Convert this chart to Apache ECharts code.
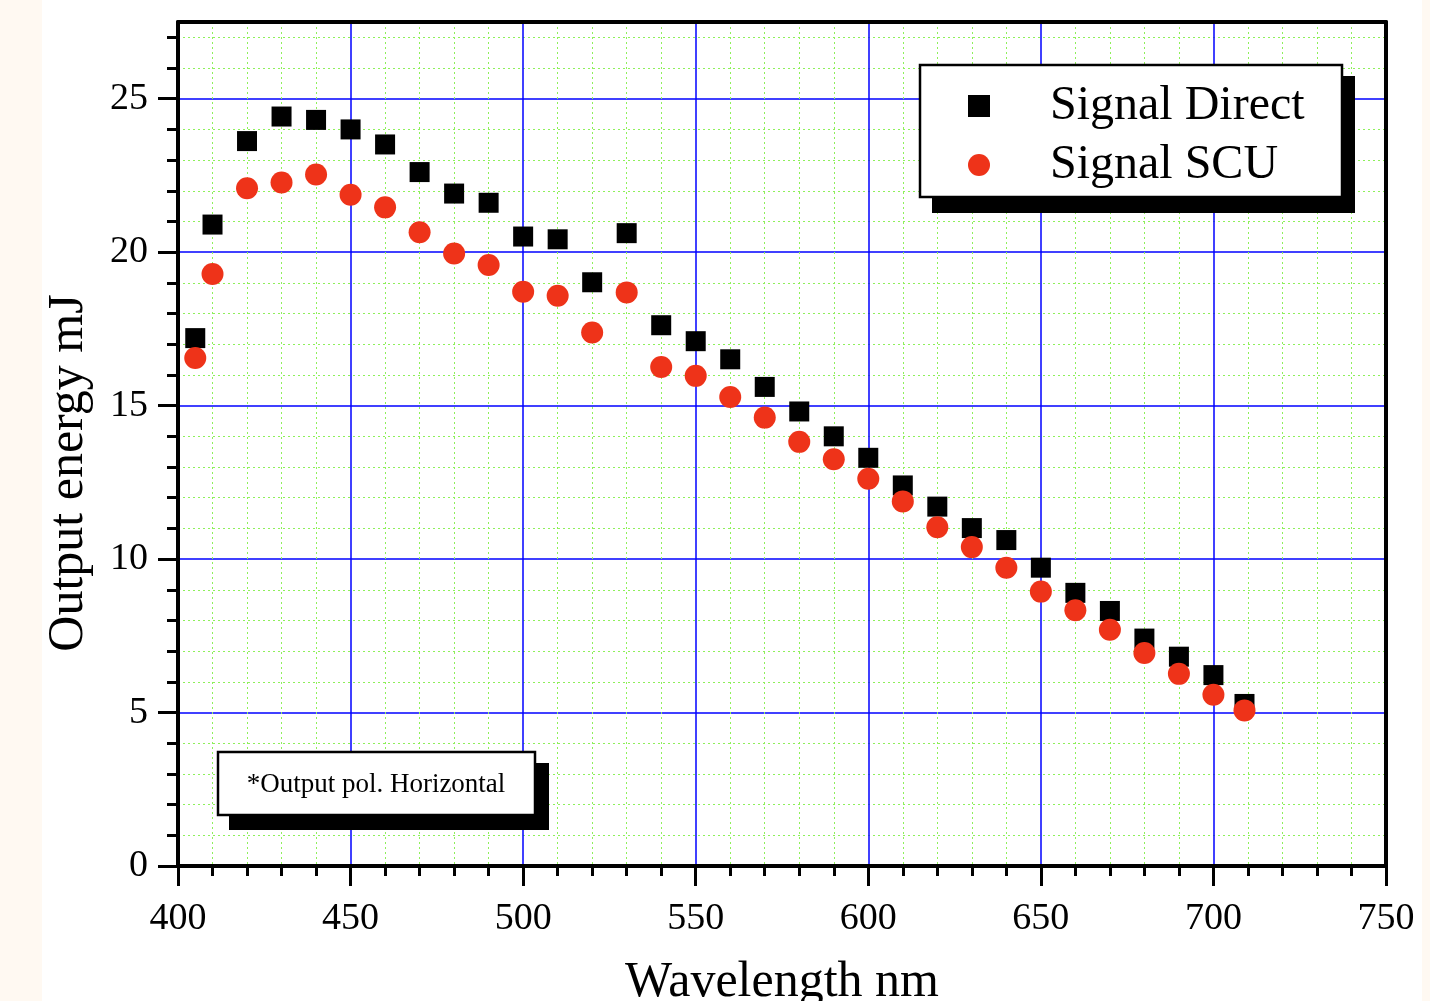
<!DOCTYPE html>
<html>
<head>
<meta charset="utf-8">
<script src="https://cdn.jsdelivr.net/npm/echarts@6/dist/echarts.min.js"></script>
<style>
html, body { margin: 0; padding: 0; overflow: hidden; }
#chart { width: 1430px; height: 1001px;
  background: linear-gradient(to right, #fff9f2 0px, #fff9f2 42px, #ffffff 42px, #ffffff 1422px, #fff9f2 1422px); }
</style>
</head>
<body>
<div id="chart"></div>
<script>
// Wavelength (nm)
const wavelengths = [405, 410, 420, 430, 440, 450, 460, 470, 480, 490, 500, 510, 520, 530,
  540, 550, 560, 570, 580, 590, 600, 610, 620, 630, 640, 650, 660, 670, 680, 690, 700, 709];
// Output energy (mJ)
const signalDirect = [17.2, 20.9, 23.62, 24.42, 24.31, 24.0, 23.51, 22.61, 21.91, 21.61, 20.51, 20.42, 19.02, 20.62,
  17.62, 17.1, 16.51, 15.61, 14.81, 14.0, 13.3, 12.4, 11.71, 11.01, 10.62, 9.72, 8.9, 8.31, 7.41, 6.82, 6.22, 5.28];
const signalSCU = [16.55, 19.29, 22.08, 22.27, 22.53, 21.87, 21.46, 20.65, 19.96, 19.58, 18.71, 18.58, 17.38, 18.69,
  16.26, 15.97, 15.28, 14.61, 13.82, 13.25, 12.62, 11.88, 11.04, 10.39, 9.72, 8.94, 8.33, 7.7, 6.94, 6.26, 5.58, 5.07];
const seriesNames = ['Signal Direct', 'Signal SCU'];
const xTicks = [400, 450, 500, 550, 600, 650, 700, 750];
const yTicks = [0, 5, 10, 15, 20, 25];
const xName = 'Wavelength nm';
const yName = 'Output energy mJ';
const noteText = '*Output pol. Horizontal';

const FONT = 'Liberation Serif';
const chart = echarts.init(document.getElementById('chart'), null, { renderer: 'canvas', width: 1430, height: 1001 });

const pairs = (xs, ys) => xs.map((x, i) => [x, ys[i]]);

chart.setOption({
  animation: false,
  backgroundColor: 'transparent',
  grid: { left: 178, width: 1208, top: 22, height: 844, containLabel: false, outerBoundsMode: 'none' },
  xAxis: [{
    type: 'value', min: 400, max: 750, interval: 50,
    name: xName, nameLocation: 'middle', nameGap: 92,
    nameTextStyle: { fontFamily: FONT, fontSize: 50, color: '#000' },
    axisLine: { show: true, onZero: false, lineStyle: { color: '#000', width: 4 } },
    axisTick: { show: true, inside: false, length: 20, lineStyle: { color: '#000', width: 3 }, customValues: xTicks },
    minorTick: { show: true, splitNumber: 5, length: 10, lineStyle: { color: '#000', width: 3 } },
    axisLabel: { fontFamily: FONT, fontSize: 38, color: '#000', margin: 34, customValues: xTicks },
    splitLine: { show: true, lineStyle: { color: '#0000ff', width: 1.5 } },
    minorSplitLine: { show: true, lineStyle: { color: '#8ef05a', width: 1, type: [2, 3] } }
  }, {
    type: 'value', min: 400, max: 750, position: 'top',
    axisLine: { show: true, onZero: false, lineStyle: { color: '#000', width: 4 } },
    axisTick: { show: false }, axisLabel: { show: false }, splitLine: { show: false }
  }],
  yAxis: [{
    type: 'value', min: 0, max: 27.5, interval: 5,
    name: yName, nameLocation: 'middle', nameGap: 84, nameRotate: 90,
    nameTextStyle: { fontFamily: FONT, fontSize: 50, color: '#000', padding: [0, 58, 0, 0] },
    axisLine: { show: true, onZero: false, lineStyle: { color: '#000', width: 4 } },
    axisTick: { show: true, inside: false, length: 20, lineStyle: { color: '#000', width: 3 }, customValues: yTicks },
    minorTick: { show: true, splitNumber: 5, length: 11, lineStyle: { color: '#000', width: 3 } },
    axisLabel: { fontFamily: FONT, fontSize: 38, color: '#000', margin: 30, customValues: yTicks },
    splitLine: { show: true, lineStyle: { color: '#0000ff', width: 1.5 } },
    minorSplitLine: { show: true, lineStyle: { color: '#8ef05a', width: 1, type: [2, 3] } }
  }, {
    type: 'value', min: 0, max: 27.5, position: 'right',
    axisLine: { show: true, onZero: false, lineStyle: { color: '#000', width: 4 } },
    axisTick: { show: false }, axisLabel: { show: false }, splitLine: { show: false }
  }],
  legend: {
    orient: 'vertical', left: 968, top: 81, padding: 0, itemGap: 9,
    itemWidth: 22, itemHeight: 22, z: 20, selectedMode: false,
    textStyle: { fontFamily: FONT, fontSize: 48, lineHeight: 50, color: '#000', padding: [0, 0, 0, 55] },
    data: [{ name: seriesNames[0], icon: 'rect' }, { name: seriesNames[1], icon: 'circle' }]
  },
  graphic: [
    { type: 'rect', z: 15, shape: { x: 932, y: 76, width: 423, height: 137 }, style: { fill: '#000' } },
    { type: 'rect', z: 16, shape: { x: 920, y: 65, width: 422, height: 132 }, style: { fill: '#fff', stroke: '#000', lineWidth: 2.5 } },
    { type: 'rect', z: 15, shape: { x: 229, y: 763, width: 320, height: 67 }, style: { fill: '#000' } },
    { type: 'rect', z: 16, shape: { x: 218, y: 752, width: 317, height: 63 }, style: { fill: '#fff', stroke: '#000', lineWidth: 2.5 } },
    { type: 'text', z: 17, x: 376, y: 785, style: { text: noteText, fontFamily: FONT, fontSize: 27, fill: '#000', align: 'center', verticalAlign: 'middle' } }
  ],
  series: [{
    name: seriesNames[0], type: 'scatter', symbol: 'rect', symbolSize: 20,
    itemStyle: { color: '#000', opacity: 1 },
    data: pairs(wavelengths, signalDirect), z: 3
  }, {
    name: seriesNames[1], type: 'scatter', symbol: 'circle', symbolSize: 22,
    itemStyle: { color: '#ee3319', opacity: 1 },
    data: pairs(wavelengths, signalSCU), z: 4
  }]
});
</script>
</body>
</html>
